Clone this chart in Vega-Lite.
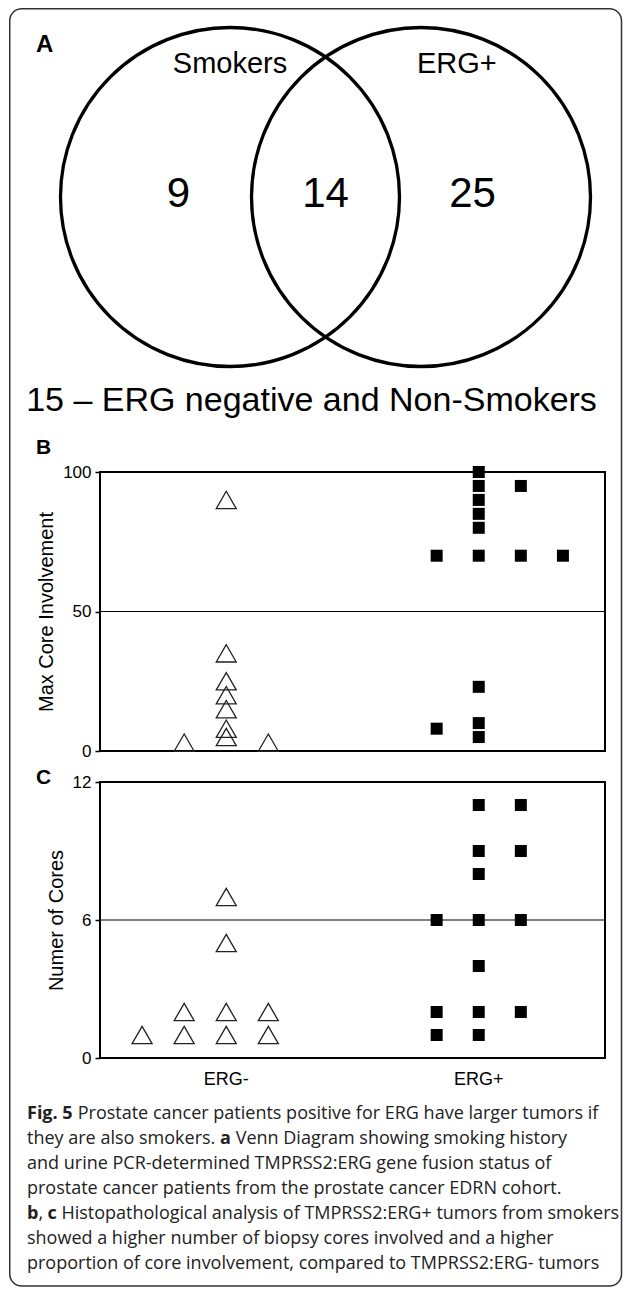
{
  "$schema": "https://vega.github.io/schema/vega-lite/v6.json",
  "background": "white",
  "padding": {"left": 8, "top": 8, "right": 0, "bottom": 0},
  "bounds": "flush",
  "spacing": 31,
  "config": {
    "font": "Liberation Sans",
    "view": {"stroke": null},
    "axis": {"labelColor": "black", "titleColor": "black", "tickColor": "black", "domainColor": "black", "labelFont": "Liberation Sans", "titleFont": "Liberation Sans", "titleFontWeight": "normal"},
    "title": {"color": "black", "font": "Liberation Sans"}
  },
  "datasets": {
    "venn_sets": [{"set": "Smokers"}, {"set": "ERG+"}],
    "venn_regions": [{"region": "Smokers only", "n": 9}, {"region": "Both", "n": 14}, {"region": "ERG+ only", "n": 25}],
    "venn_outside": [{"text": "15 – ERG negative and Non-Smokers"}],
    "maxcore": [
      {"group": "ERG-", "col": 0, "pct": 90},
      {"group": "ERG-", "col": 0, "pct": 35},
      {"group": "ERG-", "col": 0, "pct": 25},
      {"group": "ERG-", "col": 0, "pct": 20},
      {"group": "ERG-", "col": 0, "pct": 15},
      {"group": "ERG-", "col": 0, "pct": 8},
      {"group": "ERG-", "col": 0, "pct": 5},
      {"group": "ERG-", "col": -1, "pct": 3},
      {"group": "ERG-", "col": 1, "pct": 3},
      {"group": "ERG+", "col": 0, "pct": 100},
      {"group": "ERG+", "col": 0, "pct": 95},
      {"group": "ERG+", "col": 0, "pct": 90},
      {"group": "ERG+", "col": 0, "pct": 85},
      {"group": "ERG+", "col": 0, "pct": 80},
      {"group": "ERG+", "col": 1, "pct": 95},
      {"group": "ERG+", "col": -1, "pct": 70},
      {"group": "ERG+", "col": 0, "pct": 70},
      {"group": "ERG+", "col": 1, "pct": 70},
      {"group": "ERG+", "col": 2, "pct": 70},
      {"group": "ERG+", "col": 0, "pct": 23},
      {"group": "ERG+", "col": 0, "pct": 10},
      {"group": "ERG+", "col": 0, "pct": 5},
      {"group": "ERG+", "col": -1, "pct": 8}
    ],
    "cores": [
      {"group": "ERG-", "col": 0, "n": 7},
      {"group": "ERG-", "col": 0, "n": 5},
      {"group": "ERG-", "col": -1, "n": 2},
      {"group": "ERG-", "col": 0, "n": 2},
      {"group": "ERG-", "col": 1, "n": 2},
      {"group": "ERG-", "col": -2, "n": 1},
      {"group": "ERG-", "col": -1, "n": 1},
      {"group": "ERG-", "col": 0, "n": 1},
      {"group": "ERG-", "col": 1, "n": 1},
      {"group": "ERG+", "col": 0, "n": 11},
      {"group": "ERG+", "col": 1, "n": 11},
      {"group": "ERG+", "col": 0, "n": 9},
      {"group": "ERG+", "col": 1, "n": 9},
      {"group": "ERG+", "col": 0, "n": 8},
      {"group": "ERG+", "col": -1, "n": 6},
      {"group": "ERG+", "col": 0, "n": 6},
      {"group": "ERG+", "col": 1, "n": 6},
      {"group": "ERG+", "col": 0, "n": 4},
      {"group": "ERG+", "col": -1, "n": 2},
      {"group": "ERG+", "col": 0, "n": 2},
      {"group": "ERG+", "col": 1, "n": 2},
      {"group": "ERG+", "col": -1, "n": 1},
      {"group": "ERG+", "col": 0, "n": 1}
    ],
    "caption": [
      {"line": 1, "seg": "b0", "text": "Fig. 5"},
      {"line": 1, "seg": "l1b", "text": "Prostate cancer patients positive for ERG have larger tumors if"},
      {"line": 2, "seg": "n0", "text": "they are also smokers."},
      {"line": 2, "seg": "l2b", "text": "a"},
      {"line": 2, "seg": "l2c", "text": "Venn Diagram showing smoking history"},
      {"line": 3, "seg": "n0", "text": "and urine PCR-determined TMPRSS2:ERG gene fusion status of"},
      {"line": 4, "seg": "n0", "text": "prostate cancer patients from the prostate cancer EDRN cohort."},
      {"line": 5, "seg": "b0", "text": "b"},
      {"line": 5, "seg": "l5b", "text": ","},
      {"line": 5, "seg": "l5c", "text": "c"},
      {"line": 5, "seg": "l5d", "text": "Histopathological analysis of TMPRSS2:ERG+ tumors from smokers"},
      {"line": 6, "seg": "n0", "text": "showed a higher number of biopsy cores involved and a higher"},
      {"line": 7, "seg": "n0", "text": "proportion of core involvement, compared to TMPRSS2:ERG- tumors"}
    ]
  },
  "vconcat": [
    {
      "width": 451,
      "height": 433,
      "view": {"stroke": null},
      "layer": [
        {
          "data": {"values": [{"part": "frame"}]},
          "mark": {"type": "rect", "fill": "white", "fillOpacity": 0, "stroke": "#333", "strokeWidth": 1.5, "cornerRadius": 12},
          "encoding": {
            "x": {"datum": 0, "type": "quantitative", "scale": {"domain": [0.14753, 0.88476], "nice": false, "zero": false}, "axis": null},
            "x2": {"datum": 1},
            "y": {"datum": 1, "type": "quantitative", "scale": {"domain": [0.66158, 1.00059], "nice": false, "zero": false}, "axis": null},
            "y2": {"datum": 0}
          }
        },
        {
          "data": {"name": "venn_sets"},
          "mark": {"type": "point", "shape": "circle", "filled": false, "stroke": "black", "strokeWidth": 3.3, "size": 114921, "opacity": 1},
          "encoding": {
            "x": {"field": "set", "type": "nominal", "scale": {"type": "point", "domain": ["Smokers", "ERG+"], "padding": 0.6806}, "axis": null},
            "y": {"datum": 0, "type": "quantitative", "scale": {"domain": [-1.4395, 1.115], "nice": false, "zero": false}, "axis": null}
          }
        },
        {
          "data": {"name": "venn_sets"},
          "transform": [{"filter": "datum.set === 'Smokers'"}],
          "mark": {"type": "text", "fontSize": 29, "align": "center", "baseline": "alphabetic", "dy": -151.5, "color": "black"},
          "encoding": {
            "x": {"field": "set", "type": "nominal", "scale": {"type": "point", "domain": ["Smokers", "ERG+"], "padding": 0.6806}, "axis": null},
            "text": {"field": "set"}
          }
        },
        {
          "data": {"name": "venn_sets"},
          "transform": [{"filter": "datum.set === 'ERG+'"}],
          "mark": {"type": "text", "fontSize": 29, "align": "left", "baseline": "alphabetic", "dy": -151.5, "dx": -4, "color": "black"},
          "encoding": {
            "x": {"field": "set", "type": "nominal", "scale": {"type": "point", "domain": ["Smokers", "ERG+"], "padding": 0.6806}, "axis": null},
            "text": {"field": "set"}
          }
        },
        {
          "data": {"name": "venn_regions"},
          "mark": {"type": "text", "fontSize": 42, "align": "center", "baseline": "alphabetic", "dy": -17.5, "color": "black"},
          "encoding": {
            "x": {"field": "region", "type": "nominal", "scale": {"type": "point", "domain": ["Smokers only", "Both", "ERG+ only"], "padding": 0.534}, "axis": null},
            "text": {"field": "n"}
          }
        },
        {
          "data": {"name": "venn_outside"},
          "mark": {"type": "text", "fontSize": 34, "align": "center", "baseline": "alphabetic", "dy": 186.5, "dx": -14, "color": "black"},
          "encoding": {"text": {"field": "text"}}
        },
        {
          "data": {"values": [{"panel": "A"}]},
          "mark": {"type": "text", "fontSize": 24, "fontWeight": "bold", "align": "left", "baseline": "alphabetic", "dx": -289.5, "dy": -172.5, "color": "black"},
          "encoding": {"text": {"field": "panel"}}
        }
      ],
      "resolve": {"scale": {"x": "independent", "y": "independent"}}
    },
    {
      "width": 505,
      "height": 279,
      "view": {"stroke": "black", "strokeWidth": 2},
      "title": {"text": "B", "anchor": "start", "frame": "group", "dx": -64, "dy": 11.5, "offset": 0, "fontSize": 21, "fontWeight": "bold", "baseline": "alphabetic"},
      "layer": [
        {
          "data": {"values": [{"ref": 50}]},
          "mark": {"type": "rule", "color": "black", "strokeWidth": 1.2},
          "encoding": {"y": {"field": "ref", "type": "quantitative", "scale": {"domain": [0, 100], "nice": false}}}
        },
        {
          "data": {"name": "maxcore"},
          "transform": [{"filter": "datum.group === 'ERG-'"}],
          "mark": {"type": "point", "shape": "triangle-up", "filled": false, "stroke": "#222", "strokeWidth": 1.3, "size": 400, "opacity": 1},
          "encoding": {
            "x": {"field": "group", "type": "nominal", "scale": {"domain": ["ERG-", "ERG+"], "paddingInner": 0, "paddingOuter": 0}, "axis": null},
            "xOffset": {"field": "col", "type": "nominal", "scale": {"domain": [-2, -1, 0, 1, 2], "paddingInner": 0, "paddingOuter": 2.51}},
            "y": {"field": "pct", "type": "quantitative", "scale": {"domain": [0, 100], "nice": false}}
          }
        },
        {
          "data": {"name": "maxcore"},
          "transform": [{"filter": "datum.group === 'ERG+'"}],
          "mark": {"type": "point", "shape": "square", "filled": true, "color": "black", "size": 144, "opacity": 1},
          "encoding": {
            "x": {"field": "group", "type": "nominal", "scale": {"domain": ["ERG-", "ERG+"], "paddingInner": 0, "paddingOuter": 0}, "axis": null},
            "xOffset": {"field": "col", "type": "nominal", "scale": {"domain": [-2, -1, 0, 1, 2], "paddingInner": 0, "paddingOuter": 2.51}},
            "y": {"field": "pct", "type": "quantitative", "scale": {"domain": [0, 100], "nice": false},
                  "axis": {"values": [0, 50, 100], "title": "Max Core Involvement", "titleFontSize": 20, "titlePadding": 6, "labelFontSize": 17, "labelPadding": 4, "tickSize": 5, "tickWidth": 1.5, "domain": false, "grid": false}}
          }
        }
      ]
    },
    {
      "width": 505,
      "height": 276,
      "view": {"stroke": "black", "strokeWidth": 2},
      "title": {"text": "C", "anchor": "start", "frame": "group", "dx": -64, "dy": 31.5, "offset": 0, "fontSize": 21, "fontWeight": "bold", "baseline": "alphabetic"},
      "layer": [
        {
          "data": {"values": [{"ref": 6}]},
          "mark": {"type": "rule", "color": "black", "strokeWidth": 1.2},
          "encoding": {"y": {"field": "ref", "type": "quantitative", "scale": {"domain": [0, 12], "nice": false}}}
        },
        {
          "data": {"name": "cores"},
          "transform": [{"filter": "datum.group === 'ERG-'"}],
          "mark": {"type": "point", "shape": "triangle-up", "filled": false, "stroke": "#222", "strokeWidth": 1.3, "size": 400, "opacity": 1},
          "encoding": {
            "x": {"field": "group", "type": "nominal", "scale": {"domain": ["ERG-", "ERG+"], "paddingInner": 0, "paddingOuter": 0},
                  "axis": {"title": null, "labelFontSize": 18, "labelAngle": 0, "ticks": false, "domain": false, "labelPadding": 12}},
            "xOffset": {"field": "col", "type": "nominal", "scale": {"domain": [-2, -1, 0, 1, 2], "paddingInner": 0, "paddingOuter": 2.51}},
            "y": {"field": "n", "type": "quantitative", "scale": {"domain": [0, 12], "nice": false},
                  "axis": {"values": [0, 6, 12], "title": "Numer of Cores", "titleFontSize": 20, "titlePadding": 6, "labelFontSize": 17, "labelPadding": 4, "tickSize": 5, "tickWidth": 1.5, "domain": false, "grid": false}}
          }
        },
        {
          "data": {"name": "cores"},
          "transform": [{"filter": "datum.group === 'ERG+'"}],
          "mark": {"type": "point", "shape": "square", "filled": true, "color": "black", "size": 144, "opacity": 1},
          "encoding": {
            "x": {"field": "group", "type": "nominal", "scale": {"domain": ["ERG-", "ERG+"], "paddingInner": 0, "paddingOuter": 0}},
            "xOffset": {"field": "col", "type": "nominal", "scale": {"domain": [-2, -1, 0, 1, 2], "paddingInner": 0, "paddingOuter": 2.51}},
            "y": {"field": "n", "type": "quantitative", "scale": {"domain": [0, 12], "nice": false}}
          }
        }
      ]
    },
    {
      "width": 505,
      "height": 175,
      "view": {"stroke": null},
      "data": {"name": "caption"},
      "encoding": {
        "y": {"field": "line", "type": "ordinal", "scale": {"type": "point", "padding": 0.5}, "axis": null},
        "text": {"field": "text"}
      },
      "layer": [
        {"transform": [{"filter": "datum.seg === 'n0'"}], "mark": {"type": "text", "font": "Open Sans", "fontSize": 18, "align": "left", "baseline": "middle", "dx": -325.5, "dy": 12.5, "color": "#222"}},
        {"transform": [{"filter": "datum.seg === 'b0'"}], "mark": {"type": "text", "font": "Open Sans", "fontSize": 18, "fontWeight": "bold", "align": "left", "baseline": "middle", "dx": -325.5, "dy": 12.5, "color": "#222"}},
        {"transform": [{"filter": "datum.seg === 'l1b'"}], "mark": {"type": "text", "font": "Open Sans", "fontSize": 18, "align": "left", "baseline": "middle", "dx": -274.8, "dy": 12.5, "color": "#222"}},
        {"transform": [{"filter": "datum.seg === 'l2b'"}], "mark": {"type": "text", "font": "Open Sans", "fontSize": 18, "fontWeight": "bold", "align": "left", "baseline": "middle", "dx": -132.4, "dy": 12.5, "color": "#222"}},
        {"transform": [{"filter": "datum.seg === 'l2c'"}], "mark": {"type": "text", "font": "Open Sans", "fontSize": 18, "align": "left", "baseline": "middle", "dx": -116.8, "dy": 12.5, "color": "#222"}},
        {"transform": [{"filter": "datum.seg === 'l5b'"}], "mark": {"type": "text", "font": "Open Sans", "fontSize": 18, "align": "left", "baseline": "middle", "dx": -314.1, "dy": 12.5, "color": "#222"}},
        {"transform": [{"filter": "datum.seg === 'l5c'"}], "mark": {"type": "text", "font": "Open Sans", "fontSize": 18, "fontWeight": "bold", "align": "left", "baseline": "middle", "dx": -305.1, "dy": 12.5, "color": "#222"}},
        {"transform": [{"filter": "datum.seg === 'l5d'"}], "mark": {"type": "text", "font": "Open Sans", "fontSize": 18, "align": "left", "baseline": "middle", "dx": -291.1, "dy": 12.5, "color": "#222"}}
      ]
    }
  ]
}
